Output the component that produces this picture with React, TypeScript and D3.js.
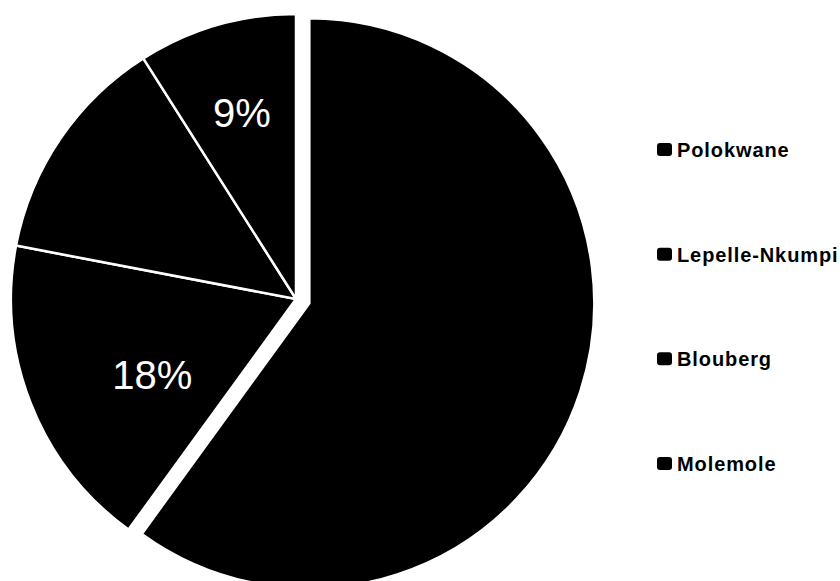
import React from "react";
import * as d3 from "d3";

const categories = ["Polokwane", "Lepelle-Nkumpi", "Blouberg", "Molemole"];
const values = [60, 18, 13, 9];
const labels = ["60%", "18%", "13%", "9%"];
const labelColors = ["#000", "#fff", "#000", "#fff"];
const explode = [14, 0, 0, 0];
// label radius factor and small nudges (layout)
const labelLayout = [
  { f: 0.6, dx: 0, dy: 0 },
  { f: 0.58, dx: 10, dy: 15 },
  { f: 0.6, dx: 0, dy: 0 },
  { f: 0.68, dx: 0, dy: 0 },
];

const W = 840;
const H = 581;
const cx = 296;
const cy = 299;
const R = 285;
const FONT = "'Liberation Sans', Arial, Helvetica, sans-serif";

export default function App() {
  const data = categories.map((c, i) => ({ c, v: values[i], i }));
  const pie = d3
    .pie<{ c: string; v: number; i: number }>()
    .sort(null)
    .value((d) => d.v)
    .startAngle(0)
    .endAngle(2 * Math.PI);
  const arcs = pie(data);
  const arc = d3.arc<d3.PieArcDatum<any>>().innerRadius(0).outerRadius(R);

  const legendY = d3
    .scalePoint<string>()
    .domain(categories)
    .range([157, 471]);

  return (
    <div style={{ position: "absolute", left: 0, top: 0, width: W, height: H, background: "#fff" }}>
      <svg width={W} height={H} style={{ display: "block" }}>
        <rect x={0} y={0} width={W} height={H} fill="#fff" />
        <g transform={`translate(${cx},${cy})`}>
          {arcs.map((a, k) => {
            const mid = (a.startAngle + a.endAngle) / 2;
            const off = explode[k];
            const ox = Math.sin(mid) * off;
            const oy = -Math.cos(mid) * off;
            return (
              <g key={k} transform={`translate(${ox},${oy})`}>
                <path d={arc(a) as string} fill="#000" stroke="#fff" strokeWidth={2.5} strokeLinejoin="miter" />
              </g>
            );
          })}
          {arcs.map((a, k) => {
            const mid = (a.startAngle + a.endAngle) / 2;
            const off = explode[k];
            const L = labelLayout[k];
            const r = R * L.f + off;
            const x = Math.sin(mid) * r + L.dx;
            const y = -Math.cos(mid) * r + L.dy;
            return (
              <text
                key={"l" + k}
                x={x}
                y={y}
                textAnchor="middle"
                dominantBaseline="central"
                fontFamily={FONT}
                fontSize={40}
                fill={labelColors[k]}
              >
                {labels[k]}
              </text>
            );
          })}
        </g>
        <g>
          {categories.map((c) => {
            const y = legendY(c) as number;
            return (
              <g key={c}>
                <rect x={657} y={y - 14} width={15} height={13} rx={3} fill="#000" />
                <text
                  x={677}
                  y={y}
                  fontFamily={FONT}
                  fontSize={20}
                  fontWeight="bold"
                  letterSpacing={0.9}
                  fill="#000"
                >
                  {c}
                </text>
              </g>
            );
          })}
        </g>
      </svg>
    </div>
  );
}
